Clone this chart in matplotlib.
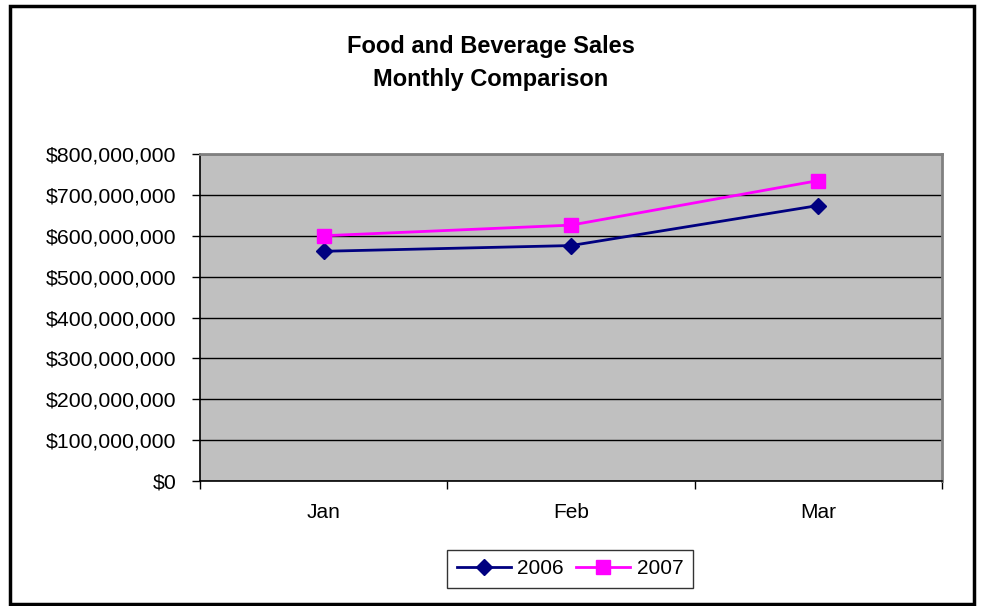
import matplotlib
matplotlib.use("Agg")
import matplotlib.pyplot as plt
from matplotlib.patches import Rectangle
from matplotlib.ticker import FuncFormatter, FixedLocator

plt.rcParams['font.family'] = ['Liberation Sans', 'DejaVu Sans']

months = ["Jan", "Feb", "Mar"]
sales_2006 = [562_000_000, 576_000_000, 674_000_000]
sales_2007 = [600_000_000, 626_000_000, 735_000_000]
series_names = ["2006", "2007"]
title = "Food and Beverage Sales\nMonthly Comparison"

W, H = 982, 606
fig = plt.figure(figsize=(W / 100, H / 100), dpi=100)
fig.patch.set_facecolor("white")

ax = fig.add_axes([200 / W, (H - 481) / H, 742 / W, 327 / H])
ax.set_facecolor("#C0C0C0")

xs = [i + 0.5 for i in range(len(months))]
ax.plot(xs, sales_2006, color="#000080", lw=2, marker="D", ms=8,
        markerfacecolor="#000080", markeredgecolor="#000080", label=series_names[0], zorder=3)
ax.plot(xs, sales_2007, color="#FF00FF", lw=2, marker="s", ms=9.5,
        markerfacecolor="#FF00FF", markeredgecolor="#FF00FF", label=series_names[1], zorder=3)

ax.set_xlim(0, len(months))
ax.set_ylim(0, 800_000_000)
ax.yaxis.set_major_locator(FixedLocator([i * 100_000_000 for i in range(9)]))
ax.yaxis.set_major_formatter(FuncFormatter(lambda v, p: f"${v:,.0f}"))
ax.grid(axis="y", color="black", lw=1)
ax.set_axisbelow(True)

ax.set_xticks(range(len(months) + 1))
ax.set_xticklabels([])
ax.set_xticks(xs, minor=True)
ax.set_xticklabels(months, minor=True)
ax.tick_params(axis="x", which="major", direction="out", length=6, width=1, color="black")
ax.tick_params(axis="x", which="minor", length=0, pad=16, labelsize=15)
ax.tick_params(axis="y", direction="out", length=6, width=1, color="black", pad=11, labelsize=15.3)

for s in ["top", "right"]:
    ax.spines[s].set_color("#808080")
    ax.spines[s].set_linewidth(2)
for s in ["left", "bottom"]:
    ax.spines[s].set_color("black")
    ax.spines[s].set_linewidth(1.2)

fig.text(491 / W, 1 - 63 / H, title, ha="center", va="center", fontsize=17,
         fontweight="bold", linespacing=1.55)

leg = ax.legend(loc="center", bbox_to_anchor=(570 / W, 1 - 569 / H),
                bbox_transform=fig.transFigure, ncol=2, frameon=True, fancybox=False,
                fontsize=15, handlelength=2.6, handletextpad=0.3, columnspacing=0.6,
                borderpad=0.45, borderaxespad=0)
leg.get_frame().set_edgecolor("black")
leg.get_frame().set_linewidth(1)

fig.patches.append(Rectangle((9.5 / W, 1 - 604 / H), (974 - 9.5) / W, (604 - 5.5) / H,
                             transform=fig.transFigure, fill=False, edgecolor="black", lw=2.5))

fig.savefig("out.png", dpi=100)
